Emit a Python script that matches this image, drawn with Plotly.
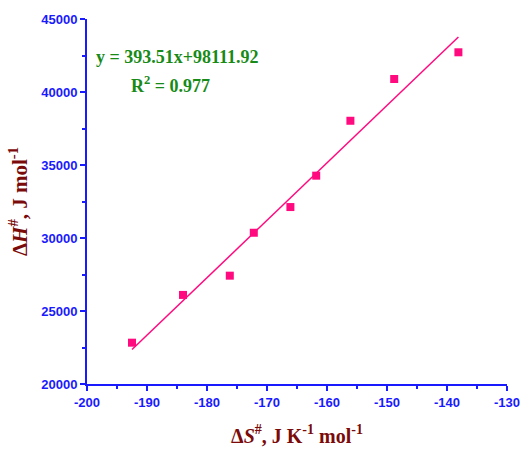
import plotly.graph_objects as go

dS = [-192.5, -184.0, -176.2, -172.2, -166.1, -161.8, -156.1, -148.8, -138.1]
dH = [22830, 26100, 27420, 30360, 32120, 34270, 38030, 40890, 42720]
slope = 393.51
intercept = 98111.92
r2 = 0.977

fit_x = [min(dS), max(dS)]
fit_y = [slope * v + intercept for v in fit_x]

pink = "#ff0a7f"
blue = "#1a1aff"
dred = "#7b0a0a"
green = "#178a17"

fig = go.Figure()
fig.add_trace(go.Scatter(x=fit_x, y=fit_y, mode="lines",
                         line=dict(color=pink, width=1.5), showlegend=False))
fig.add_trace(go.Scatter(x=dS, y=dH, mode="markers",
                         marker=dict(symbol="square", size=8, color=pink, line=dict(width=0)),
                         showlegend=False))

axis_common = dict(showline=True, linecolor=blue, linewidth=2, ticks="outside",
                   tickcolor=blue, tickwidth=2, ticklen=5, showgrid=False, zeroline=False,
                   automargin=False,
                   tickfont=dict(family="Liberation Sans", size=13, color=blue))

xt = [-200, -190, -180, -170, -160, -150, -140, -130]
yt = [20000, 25000, 30000, 35000, 40000, 45000]

fig.update_xaxes(range=[-200, -130], tickmode="array",
                 tickvals=xt, ticktext=["<b>%d</b>" % v for v in xt],
                 minor=dict(ticks="outside", dtick=5, tick0=-200, ticklen=3, tickcolor=blue, tickwidth=2),
                 title=dict(text="<b>Δ<i>S</i><sup>#</sup>, J K<sup>-1</sup> mol<sup>-1</sup></b>",
                            font=dict(family="Liberation Serif", size=20, color=dred), standoff=20),
                 **axis_common)
fig.update_yaxes(range=[20000, 45000], tickmode="array",
                 tickvals=yt, ticktext=["<b>%d</b>" % v for v in yt],
                 minor=dict(ticks="outside", dtick=2500, tick0=20000, ticklen=3, tickcolor=blue, tickwidth=2),
                 title=dict(text="<b>Δ<i>H</i><sup>#</sup>, J mol<sup>-1</sup></b>",
                            font=dict(family="Liberation Serif", size=21, color=dred), standoff=8),
                 **axis_common)

fig.add_annotation(xref="paper", yref="paper", x=(177 - 87) / 420, y=(384 - 57) / 365,
                   xanchor="center", yanchor="middle",
                   text="<b>y = %.2fx+%.2f</b>" % (slope, intercept), showarrow=False,
                   font=dict(family="Liberation Serif", size=18, color=green))
fig.add_annotation(xref="paper", yref="paper", x=(170 - 87) / 420, y=(384 - 84) / 365,
                   xanchor="center", yanchor="middle",
                   text="<b>R<sup>2</sup> = %.3f</b>" % r2, showarrow=False,
                   font=dict(family="Liberation Serif", size=18, color=green))

fig.update_layout(width=521, height=452, margin=dict(l=87, r=14, t=19, b=68),
                  plot_bgcolor="white", paper_bgcolor="white")
fig.write_html("out.html")
